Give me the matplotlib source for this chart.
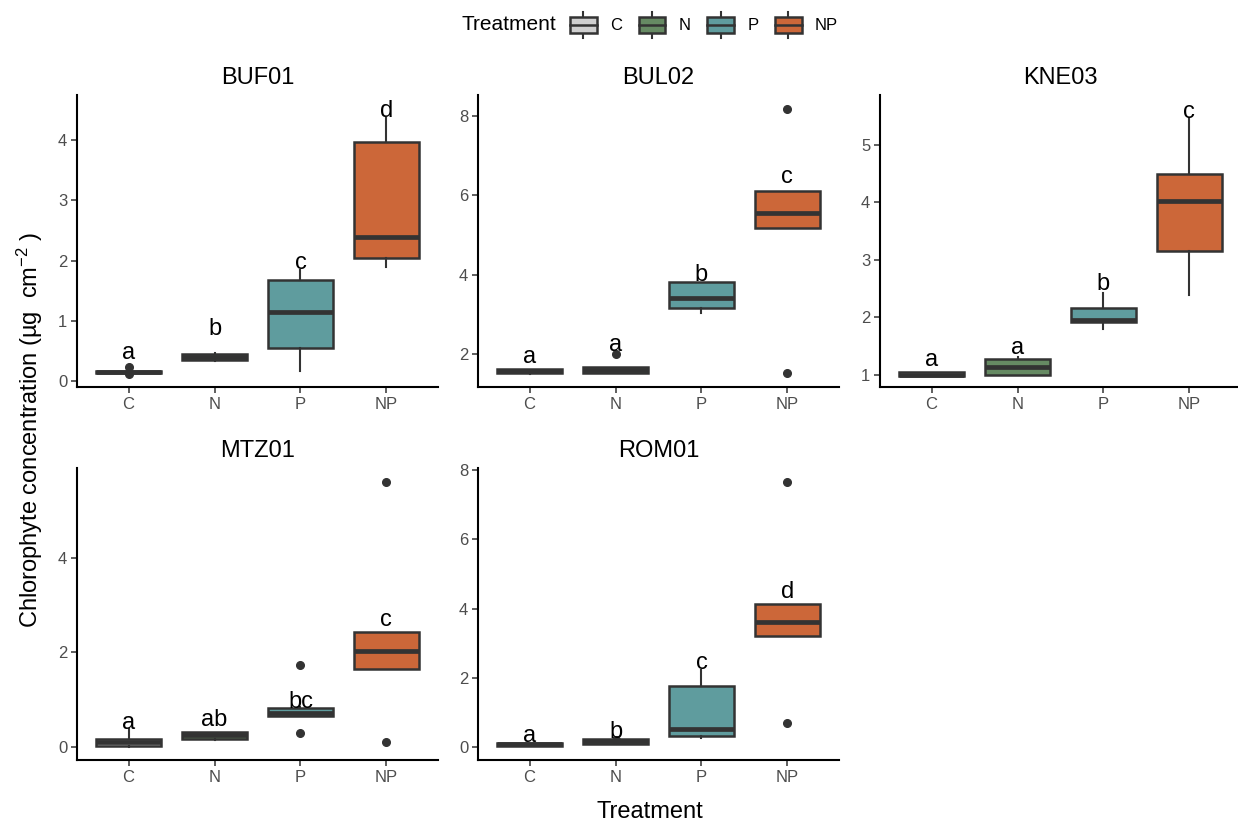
import matplotlib
matplotlib.use("Agg")
import matplotlib.pyplot as plt
from matplotlib.patches import Patch, Rectangle
from matplotlib.lines import Line2D
from matplotlib.legend_handler import HandlerBase

plt.rcParams['font.family'] = ['Liberation Sans', 'DejaVu Sans']
plt.rcParams['mathtext.fontset'] = 'custom'
plt.rcParams['mathtext.rm'] = 'Liberation Sans'
plt.rcParams['mathtext.it'] = 'Liberation Sans:italic'

treatments = ["C", "N", "P", "NP"]
colors = ["#cfcfcf", "#668a63", "#5f9c9e", "#cc6739"]
sites = ["BUF01", "BUL02", "KNE03", "MTZ01", "ROM01"]

# five-number summaries per treatment: (low whisker, q1, median, q3, high whisker)
buf01 = [(0.12, 0.13, 0.15, 0.17, 0.19), (0.34, 0.35, 0.40, 0.45, 0.46),
         (0.17, 0.54, 1.15, 1.68, 1.84), (1.89, 2.05, 2.39, 3.97, 4.36)]
bul02 = [(1.50, 1.54, 1.58, 1.62, 1.63), (1.52, 1.54, 1.60, 1.68, 1.69),
         (3.03, 3.16, 3.42, 3.81, 3.83), (5.18, 5.18, 5.56, 6.11, 6.11)]
kne03 = [(0.97, 0.98, 1.00, 1.04, 1.05), (0.99, 1.00, 1.14, 1.27, 1.31),
         (1.80, 1.91, 1.96, 2.17, 2.42), (2.38, 3.16, 4.03, 4.49, 5.47)]
mtz01 = [(0.01, 0.03, 0.10, 0.17, 0.38), (0.15, 0.18, 0.25, 0.32, 0.33),
         (0.65, 0.66, 0.72, 0.83, 0.84), (1.64, 1.64, 2.02, 2.44, 2.44)]
rom01 = [(0.02, 0.03, 0.08, 0.12, 0.13), (0.09, 0.10, 0.18, 0.25, 0.26),
         (0.26, 0.33, 0.52, 1.78, 2.23), (3.22, 3.22, 3.62, 4.13, 4.13)]

# outlying points
buf01_out = [[0.23, 0.12], [], [], []]
bul02_out = [[], [2.01], [], [8.16, 1.54]]
kne03_out = [[], [], [], []]
mtz01_out = [[], [], [1.74, 0.30], [5.60, 0.10]]
rom01_out = [[], [0.20], [], [7.66, 0.69]]

# significance letters
buf01_letters = ["a", "b", "c", "d"]
bul02_letters = ["a", "a", "b", "c"]
kne03_letters = ["a", "a", "b", "c"]
mtz01_letters = ["a", "ab", "bc", "c"]
rom01_letters = ["a", "b", "c", "d"]

buf01_letter_y = [0.47, 0.87, 1.96, 4.49]
bul02_letter_y = [1.94, 2.23, 3.99, 6.47]
kne03_letter_y = [1.26, 1.46, 2.58, 5.57]
mtz01_letter_y = [0.51, 0.58, 0.96, 2.68]
rom01_letter_y = [0.31, 0.45, 2.42, 4.49]

summaries = [buf01, bul02, kne03, mtz01, rom01]
outliers = [buf01_out, bul02_out, kne03_out, mtz01_out, rom01_out]
letters = [buf01_letters, bul02_letters, kne03_letters, mtz01_letters, rom01_letters]
letter_y = [buf01_letter_y, bul02_letter_y, kne03_letter_y, mtz01_letter_y, rom01_letter_y]
ylims = [(-0.1, 4.75), (1.18, 8.52), (0.786, 5.87), (-0.27, 5.89), (-0.37, 8.06)]
yticks = [[0, 1, 2, 3, 4], [2, 4, 6, 8], [1, 2, 3, 4, 5], [0, 2, 4], [0, 2, 4, 6, 8]]

W, H = 1238, 825
edge = "#333333"
fig = plt.figure(figsize=(W / 100, H / 100), dpi=100)

# panel frames in pixels: left, top
frames = [(77, 95), (478, 95), (880, 95), (77, 468), (478, 468)]
pw, ph = 361, 292

for k, site in enumerate(sites):
    left, top = frames[k]
    ax = fig.add_axes([left / W, 1 - (top + ph) / H, pw / W, ph / H])
    stats = []
    for j, t in enumerate(treatments):
        lo, q1, med, q3, hi = summaries[k][j]
        stats.append(dict(whislo=lo, q1=q1, med=med, q3=q3, whishi=hi,
                          fliers=outliers[k][j], label=t))
    bp = ax.bxp(stats, positions=[1, 2, 3, 4], widths=0.75, patch_artist=True,
                showcaps=False,
                boxprops=dict(edgecolor=edge, linewidth=1.8),
                medianprops=dict(color=edge, linewidth=3.4, solid_capstyle='butt'),
                whiskerprops=dict(color=edge, linewidth=1.5),
                flierprops=dict(marker='o', markerfacecolor=edge, markeredgecolor=edge,
                                markersize=5.5))
    for patch, c in zip(bp['boxes'], colors):
        patch.set_facecolor(c)
    for j in range(4):
        ax.text(j + 1, letter_y[k][j], letters[k][j], ha='center', va='center',
                fontsize=17, color='black')
    ax.set_xlim(0.4, 4.6)
    ax.set_ylim(*ylims[k])
    ax.set_yticks(yticks[k])
    ax.set_xticks([1, 2, 3, 4])
    ax.set_xticklabels(treatments)
    for s in ['top', 'right']:
        ax.spines[s].set_visible(False)
    for s in ['left', 'bottom']:
        ax.spines[s].set_linewidth(1.5)
        ax.spines[s].set_color('black')
    ax.tick_params(length=4, width=1.1, color=edge, labelcolor='#4d4d4d',
                   labelsize=12, pad=3)
    ax.set_title(site, fontsize=17, pad=8)


class BoxKey(HandlerBase):
    def create_artists(self, legend, orig_handle, xdescent, ydescent, width,
                       height, fontsize, trans):
        cx = width / 2 - xdescent
        cy = height / 2 - ydescent
        bh = height * 0.6
        rect = Rectangle((-xdescent, cy - bh / 2), width, bh,
                         facecolor=orig_handle.get_facecolor(), edgecolor=edge,
                         linewidth=1.8, transform=trans)
        med = Line2D([-xdescent, width - xdescent], [cy, cy], color=edge,
                     linewidth=1.8, transform=trans)
        up = Line2D([cx, cx], [cy + bh / 2, -ydescent + height], color=edge,
                    linewidth=1.5, transform=trans)
        dn = Line2D([cx, cx], [-ydescent, cy - bh / 2], color=edge,
                    linewidth=1.5, transform=trans)
        return [up, dn, rect, med]


handles = [Patch(facecolor=c) for c in colors]
fig.legend(handles, treatments, handler_map={Patch: BoxKey()}, ncol=4,
           loc='center left', bbox_to_anchor=(570 / W, 1 - 25 / H), frameon=False,
           fontsize=12, handlelength=1.6, handleheight=2.0, handletextpad=0.8,
           columnspacing=1.0, borderpad=0, borderaxespad=0)
fig.text(462 / W, 1 - 25 / H, "Treatment", fontsize=15, ha='left', va='center')

fig.text(650 / W, 1 - 812 / H, "Treatment", fontsize=17, ha='center', va='center')
fig.text(30 / W, 1 - 430 / H, "Chlorophyte concentration (µg  cm$^{-2}$ )",
         fontsize=17, rotation=90, ha='center', va='center')

fig.savefig("out.png", dpi=100)
